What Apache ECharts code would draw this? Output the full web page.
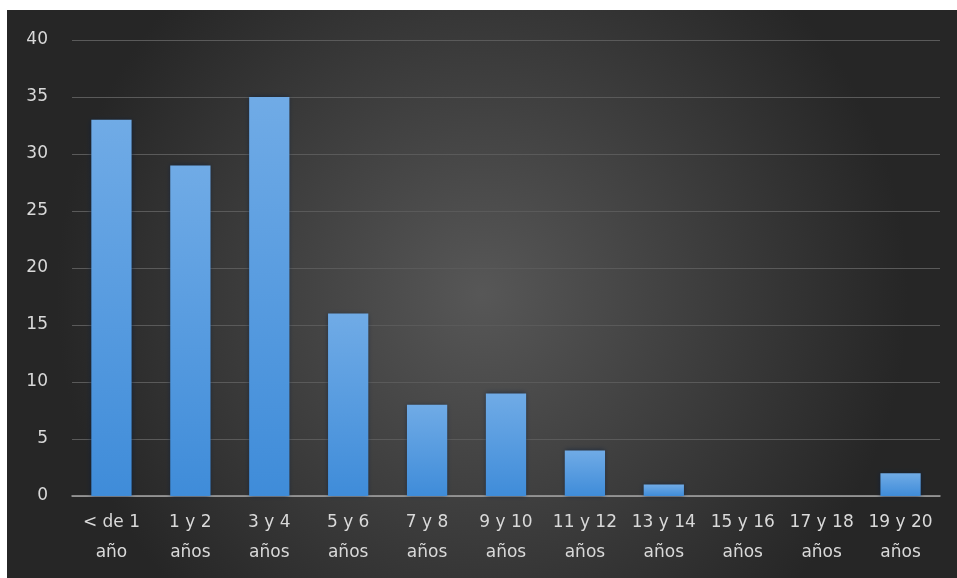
<!DOCTYPE html>
<html><head><meta charset="utf-8">
<script src="https://cdn.jsdelivr.net/npm/echarts@6/dist/echarts.min.js"></script>
<style>
html,body{margin:0;padding:0;background:#fff;width:957px;height:578px;overflow:hidden}
#c{position:absolute;left:7px;top:10px;width:950px;height:568px}
</style></head><body>
<div id="c"></div>
<script>
const categories = ["< de 1\naño","1 y 2\naños","3 y 4\naños","5 y 6\naños","7 y 8\naños","9 y 10\naños","11 y 12\naños","13 y 14\naños","15 y 16\naños","17 y 18\naños","19 y 20\naños"];
const values = [33, 29, 35, 16, 8, 9, 4, 1, 0, 0, 2];
const yTicks = {min: 0, max: 40, interval: 5};

const chart = echarts.init(document.getElementById('c'));
chart.setOption({
  backgroundColor: new echarts.graphic.RadialGradient(0.5, 0.5, 0.75, [
    {offset: 0, color: '#575757'},
    {offset: 1, color: '#262626'}
  ]),
  animation: false,
  grid: {left: 65, right: 17, top: 30, bottom: 82},
  xAxis: {
    type: 'category',
    data: categories,
    axisLine: {lineStyle: {color: '#a6a6a6', width: 1.5}},
    axisTick: {show: false},
    axisLabel: {color: '#d9d9d9', fontSize: 17, fontFamily: 'DejaVu Sans', lineHeight: 30, margin: 12, interval: 0}
  },
  yAxis: {
    type: 'value',
    min: yTicks.min, max: yTicks.max, interval: yTicks.interval,
    axisLine: {show: false},
    axisTick: {show: false},
    splitLine: {lineStyle: {color: '#5a5a5a', width: 1}},
    axisLabel: {color: '#d9d9d9', fontSize: 17, fontFamily: 'DejaVu Sans', margin: 24}
  },
  series: [{
    type: 'bar',
    data: values,
    barWidth: '51%',
    itemStyle: {
      color: new echarts.graphic.LinearGradient(0, 0, 0, 1, [
        {offset: 0, color: '#70abe6'},
        {offset: 1, color: '#3f8cd9'}
      ]),
      borderWidth: 0,
      shadowColor: 'rgba(10,30,60,0.7)',
      shadowBlur: 5
    }
  }]
});
</script>
</body></html>
